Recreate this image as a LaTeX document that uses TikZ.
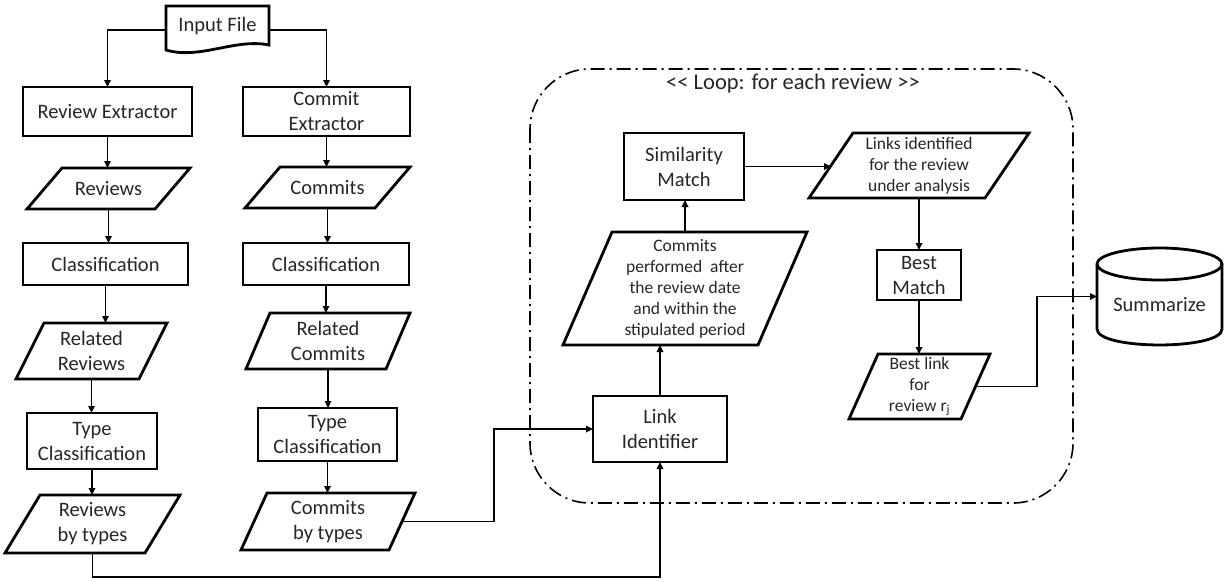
\documentclass[tikz,border=0pt]{standalone}
\usepackage{fontspec}
\setmainfont{Carlito}
\usetikzlibrary{calc,arrows.meta}
\definecolor{textc}{RGB}{38,38,38}
\newcommand\paradraw[2]{\draw[bline] (#1.south west) -- ($(#1.north west)+(#2,0)$) -- (#1.north east) -- ($(#1.south east)-(#2,0)$) -- cycle;}
\begin{document}
\begin{tikzpicture}[x=1pt,y=-1pt,
  txt/.style={font=\fontsize{20.5}{25}\selectfont, text=textc, align=center, inner sep=0pt, outer sep=0pt},
  small/.style={font=\fontsize{17.5}{21}\selectfont},
  box/.style={txt, draw, line width=2.8pt},
  bline/.style={line width=2.8pt, line join=miter},
  conn/.style={line width=1.6pt, -{Triangle[length=7pt,width=6.5pt]}},
  loopline/.style={line width=1.6pt, dash pattern=on 14pt off 5pt on 2pt off 5pt, rounded corners=60pt},
]
\useasboundingbox (0,0) rectangle (1225,581);

% loop frame
\draw[loopline] (530,69) rectangle (1073,503);
\node[txt, font=\fontsize{22.5}{27}\selectfont] (looplbl) at (793,83) {<\kern0pt< Loop: for each review >\kern0pt>};

% input file (document shape)
\draw[bline] (166,6) -- (269,6) -- (269,45) .. controls (235,38) and (200,60) .. (166,50) -- cycle;
\node[txt, minimum width=103pt, minimum height=48pt] (inp) at (217.5,30) {};
\node[txt] (inplbl) at (217.5,26) {Input File};

% rectangles
\node[box, minimum width=169pt, minimum height=49pt] (rext) at (107.5,111.5) {Review Extractor};
\node[box, minimum width=167pt, minimum height=49pt] (cext) at (326.5,111.5) {Commit\\Extractor};
\node[box, minimum width=165pt, minimum height=42pt] (cls1) at (105.5,264) {Classification};
\node[box, minimum width=166pt, minimum height=42pt] (cls2) at (326,264) {Classification};
\node[box, minimum width=130pt, minimum height=56pt] (tc1) at (92,441) {Type\\Classification};
\node[box, minimum width=139pt, minimum height=53pt] (tc2) at (327.5,434.5) {Type\\Classification};
\node[box, minimum width=134pt, minimum height=66pt] (link) at (660,429) {Link\\Identifier};
\node[box, minimum width=120pt, minimum height=67pt] (sim) at (684,166.5) {Similarity\\Match};
\node[box, minimum width=84pt, minimum height=50pt] (best) at (919,275) {Best\\Match};

% parallelograms (text nodes + outlines)
\node[txt, minimum width=163pt, minimum height=41pt] (revs) at (108.5,188.5) {Reviews};
\node[txt, minimum width=165pt, minimum height=41pt] (coms) at (327.5,187.5) {Commits};
\node[txt, minimum width=151pt, minimum height=56pt] (rrev) at (91.5,351) {Related\\Reviews};
\node[txt, minimum width=164pt, minimum height=56pt] (rcom) at (328,341) {Related\\Commits};
\node[txt, minimum width=175pt, minimum height=58pt] (rbt) at (92.5,524) {Reviews\\by types};
\node[txt, minimum width=174pt, minimum height=57pt] (cbt) at (328,521.5) {Commits\\by types};
\node[txt, small, minimum width=244pt, minimum height=113pt] (cp) at (685,288.5) {Commits\\performed~ after\\the review date\\and within the\\stipulated period};
\node[txt, small, minimum width=220pt, minimum height=65pt] (lid) at (919,165.5) {Links identified\\for the review\\under analysis};
\node[txt, small, minimum width=141pt, minimum height=65pt] (bl) at (919.5,386.5) {Best link\\for\\review r\textsubscript{j}};
\paradraw{revs}{35}
\paradraw{coms}{35}
\paradraw{rrev}{28}
\paradraw{rcom}{24}
\paradraw{rbt}{35}
\paradraw{cbt}{26}
\paradraw{cp}{49}
\paradraw{lid}{44}
\paradraw{bl}{29}

% cylinder
\node[txt, minimum width=125pt, minimum height=97pt] (sum) at (1159.5,296.5) {};
\node[txt] (sumlbl) at (1159.5,305) {Summarize};
\draw[bline] (1097,264) -- (1097,329) .. controls (1097,350.3) and (1222,350.3) .. (1222,329) -- (1222,264);
\draw[bline] (1159.5,264) ellipse [x radius=62.5pt, y radius=16pt];

% connectors
\draw[conn] (inp.west) -| (rext.north);
\draw[conn] (inp.east) -| (cext.north);
\draw[conn] (rext.south) -- (rext.south |- revs.north);
\draw[conn] (revs.south) -- (revs.south |- cls1.north);
\draw[conn] (cls1.south) -- (cls1.south |- rrev.north);
\draw[conn] (rrev.south) -- (rrev.south |- tc1.north);
\draw[conn] (tc1.south) -- (tc1.south |- rbt.north);
\draw[conn] (cext.south) -- (cext.south |- coms.north);
\draw[conn] (coms.south) -- (coms.south |- cls2.north);
\draw[conn] (cls2.south) -- (cls2.south |- rcom.north);
\draw[conn] (rcom.south) -- (rcom.south |- tc2.north);
\draw[conn] (tc2.south) -- (tc2.south |- cbt.north);
\coordinate (bot) at (0,577);
\draw[conn] (rbt.south) -- (rbt.south |- bot) -| (link.south);
\coordinate (cbtE) at ($(cbt.east)+(-13,0)$);
\coordinate (j1) at (494,0);
\draw[conn] (cbtE) -- (cbtE -| j1) |- (link.west);
\draw[conn] (link.north) -- (link.north |- cp.south);
\draw[conn] (cp.north) -- (cp.north |- sim.south);
\coordinate (lidW) at ($(lid.west)+(22,0)$);
\draw[conn] (sim.east) -- (sim.east -| lidW);
\draw[conn] (lid.south) -- (lid.south |- best.north);
\draw[conn] (best.south) -- (best.south |- bl.north);
\coordinate (blE) at ($(bl.east)+(-14.5,0)$);
\coordinate (j2) at (1037,0);
\draw[conn] (blE) -- (blE -| j2) |- (sum.west);
\end{tikzpicture}
\end{document}
